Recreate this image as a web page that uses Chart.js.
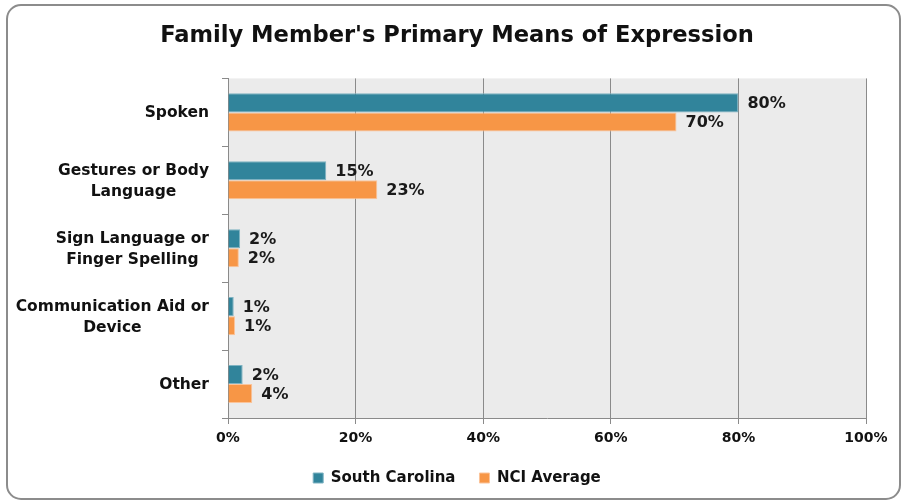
<!DOCTYPE html>
<html>
<head>
<meta charset="utf-8">
<script src="https://cdn.jsdelivr.net/npm/chart.js@4.4.1/dist/chart.umd.min.js"></script>
<style>
html,body{margin:0;padding:0;background:#fff;}
#wrap{width:903px;height:501px;position:relative;}
</style>
</head>
<body>
<div id="wrap"><canvas id="c" width="903" height="501"></canvas></div>
<script>
const categories = [
  "Spoken",
  ["Gestures or Body", "Language"],
  ["Sign Language or", "Finger Spelling"],
  ["Communication Aid or", "Device"],
  "Other"
];
const southCarolina = [80.0, 15.4, 1.9, 0.9, 2.3];
const nciAverage = [70.3, 23.4, 1.7, 1.1, 3.8];
const seriesNames = ["South Carolina", "NCI Average"];
const xTicks = [0, 20, 40, 60, 80, 100];

const FONT = "'DejaVu Sans', sans-serif";
const Y_FONT_SIZE = 15.5;
const Y_LINE_H = 20.9;
const Y_TICK_LEN = 6;
const Y_PAD = 13;

const bgPlugin = {
  id: 'bg',
  beforeDraw(chart) {
    const ctx = chart.ctx;
    ctx.save();
    ctx.strokeStyle = '#8c8c8c';
    ctx.lineWidth = 2;
    ctx.beginPath();
    if (ctx.roundRect) ctx.roundRect(7, 5, 893, 494, 14);
    else ctx.rect(7, 5, 893, 494);
    ctx.stroke();
    const a = chart.chartArea;
    ctx.fillStyle = '#EBEBEB';
    ctx.fillRect(a.left, a.top, a.right - a.left, a.bottom - a.top);
    ctx.restore();
  }
};

// category labels: block right-aligned to the axis, lines centred within the block
const catLabelPlugin = {
  id: 'catLabels',
  afterDraw(chart) {
    const ctx = chart.ctx;
    const ys = chart.scales.y;
    const xr = ys.right - Y_TICK_LEN - Y_PAD;
    ctx.save();
    ctx.font = "bold " + Y_FONT_SIZE + "px " + FONT;
    ctx.fillStyle = '#111';
    ctx.textBaseline = 'middle';
    ctx.textAlign = 'center';
    chart.data.labels.forEach((lab, i) => {
      const lines = Array.isArray(lab) ? lab : [lab];
      const w = Math.max(...lines.map(l => ctx.measureText(l).width));
      const cx = xr - w / 2;
      const cy = ys.getPixelForTick(i);
      lines.forEach((l, j) => {
        ctx.fillText(l, cx, cy + (j - (lines.length - 1) / 2) * Y_LINE_H + 1);
      });
    });
    ctx.restore();
  }
};

const labelPlugin = {
  id: 'vals',
  afterDatasetsDraw(chart) {
    const ctx = chart.ctx;
    ctx.save();
    ctx.font = "bold 16px " + FONT;
    ctx.fillStyle = '#1a1a1a';
    ctx.textBaseline = 'middle';
    ctx.textAlign = 'left';
    chart.data.datasets.forEach((ds, di) => {
      const meta = chart.getDatasetMeta(di);
      meta.data.forEach((bar, i) => {
        ctx.fillText(Math.round(ds.data[i]) + '%', bar.x + 9, bar.y + 1);
      });
    });
    ctx.restore();
  }
};

new Chart(document.getElementById('c'), {
  type: 'bar',
  data: {
    labels: categories,
    datasets: [
      { label: seriesNames[0], data: southCarolina, backgroundColor: '#31849B', borderColor: '#7fb3c2', borderWidth: 1, categoryPercentage: 0.56, barPercentage: 1.0 },
      { label: seriesNames[1], data: nciAverage, backgroundColor: '#F79646', borderColor: '#fbc49a', borderWidth: 1, categoryPercentage: 0.56, barPercentage: 1.0 }
    ]
  },
  options: {
    indexAxis: 'y',
    responsive: false,
    animation: false,
    layout: { padding: { top: 23, left: 48, right: 37, bottom: 5.5 } },
    plugins: {
      title: {
        display: true,
        text: "Family Member's Primary Means of Expression",
        font: { family: FONT, size: 22.6, weight: 'bold' },
        color: '#111',
        padding: { top: 0, bottom: 28.3 }
      },
      legend: {
        display: true,
        position: 'bottom',
        labels: {
          font: { family: FONT, size: 15, weight: 'bold' },
          color: '#111',
          boxWidth: 10,
          boxHeight: 10,
          padding: 24,
          useBorderRadius: false
        }
      },
      tooltip: { enabled: false }
    },
    scales: {
      x: {
        min: 0, max: 100,
        afterBuildTicks(scale) { scale.ticks = xTicks.map(v => ({ value: v })); },
        afterFit(scale) { scale.height = 28.5; },
        ticks: {
          callback: v => v + '%',
          font: { family: FONT, size: 14, weight: 'bold' },
          color: '#111',
          padding: 6
        },
        grid: { color: '#8a8a8a', lineWidth: 1, tickLength: 6, drawOnChartArea: true },
        border: { color: '#8a8a8a', width: 1 }
      },
      y: {
        afterFit(scale) { scale.width = 180; },
        ticks: { display: false },
        grid: { drawOnChartArea: false, color: '#8a8a8a', tickLength: Y_TICK_LEN, offset: true },
        border: { color: '#8a8a8a', width: 1 }
      }
    }
  },
  plugins: [bgPlugin, labelPlugin, catLabelPlugin]
});
</script>
</body>
</html>
